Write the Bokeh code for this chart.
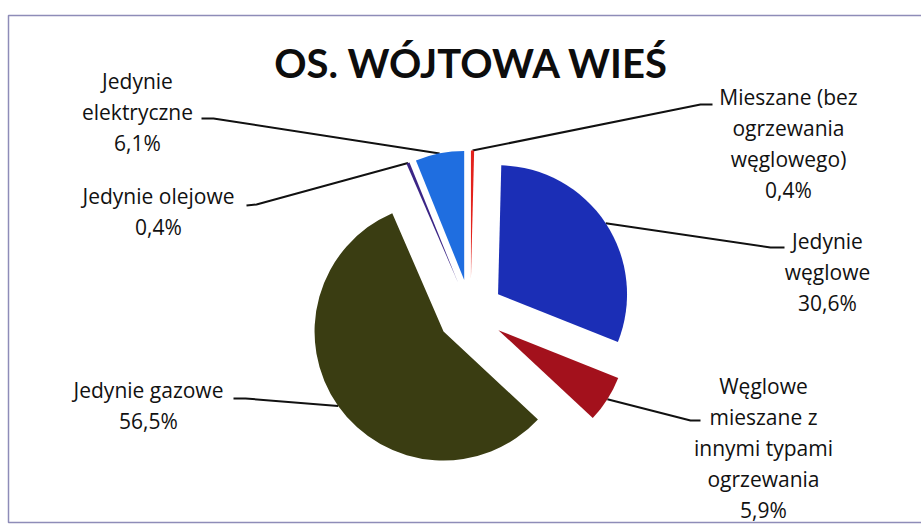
import numpy as np
from bokeh.plotting import figure
from bokeh.models import Range1d, BoxAnnotation
from bokeh.core.properties import value
from bokeh.embed import file_html
from bokeh.resources import INLINE

# ---- data ----
title_text = "OS. WÓJTOWA WIEŚ"
categories = [
    "Mieszane (bez\nogrzewania\nwęglowego)",
    "Jedynie\nwęglowe",
    "Węglowe\nmieszane z\ninnymi typami\nogrzewania",
    "Jedynie gazowe",
    "Jedynie olejowe",
    "Jedynie\nelektryczne",
]
shares = [0.4, 30.6, 5.9, 56.5, 0.4, 6.1]
share_labels = ["0,4%", "30,6%", "5,9%", "56,5%", "0,4%", "6,1%"]
colors = ["#e3221c", "#1b2eb6", "#a3111c", "#3a3d12", "#3b2586", "#1f6ee0"]

# ---- layout (image pixel coords, figure placed at page origin) ----
W, H = 921, 527
def X(ix):
    return ix
def Y(iy):
    return H - iy

center = (470, 312)
radius = 129
explode = 33
line_h = 31
font = "Open Sans"
fsize = "21px"
mid_off = 8          # baseline -> text middle offset for labels

# label anchor: (center x, first baseline y)
label_pos = [(788, 104), (827, 248), (763, 393), (148, 397), (158, 203), (137, 88)]
# leader label-side points
leader_pts = [
    [(700, 104), (712, 104)],
    [(770, 247), (784, 247)],
    [(690, 420), (700, 420)],
    [(245, 398), (233, 398)],
    [(256, 204), (246, 205)],
    [(213, 118), (201, 118)],
]

p = figure(width=W, height=H, x_range=Range1d(0, W), y_range=Range1d(0, H),
           output_backend="svg", toolbar_location=None,
           x_axis_type=None, y_axis_type=None,
           min_border_left=0, min_border_right=0, min_border_bottom=0, min_border_top=0)
p.grid.visible = False
p.outline_line_color = None
p.background_fill_color = "white"
p.border_fill_color = "white"

# chart-area frame (right edge lies outside the picture)
p.add_layout(BoxAnnotation(left=X(8), right=X(940), top=Y(15), bottom=Y(522),
                           fill_alpha=0, line_color="#8e8cb8", line_width=1.5, line_alpha=1))

vals = np.array(shares, dtype=float)
frac = vals / vals.sum()
cum = np.concatenate([[0], np.cumsum(frac)])
start = np.pi / 2 - 2 * np.pi * cum[:-1]
end = np.pi / 2 - 2 * np.pi * cum[1:]
mid = (start + end) / 2

cx, cy = X(center[0]), Y(center[1])
wx = cx + explode * np.cos(mid)
wy = cy + explode * np.sin(mid)

# leaders (under slices)
for i in range(len(vals)):
    ax = wx[i] + radius * np.cos(mid[i])
    ay = wy[i] + radius * np.sin(mid[i])
    pts = leader_pts[i]
    xs = [ax] + [X(px) for px, _ in pts]
    ys = [ay] + [Y(py) for _, py in pts]
    p.line(xs, ys, line_color="#111111", line_width=2)

p.wedge(x=list(wx), y=list(wy), radius=radius, start_angle=list(start), end_angle=list(end),
        direction="clock", fill_color=colors, line_color=None)

# labels
tx, ty, tt = [], [], []
for i, cat in enumerate(categories):
    lines = cat.split("\n") + [share_labels[i]]
    lx, ly = label_pos[i]
    for k, ln in enumerate(lines):
        tx.append(X(lx))
        ty.append(Y(ly + k * line_h - mid_off))
        tt.append(ln)
p.text(x=tx, y=ty, text=tt, text_font=value(font), text_font_size=fsize,
       text_align="center", text_baseline="middle", text_color="#111111")

p.text(x=[X(471)], y=[Y(62)], text=[title_text], text_font=value("Lato"),
       text_font_size="40px", text_font_style="bold", text_align="center",
       text_baseline="middle", text_color="#0d0d0d")

open("out.html", "w").write(file_html(p, INLINE))
